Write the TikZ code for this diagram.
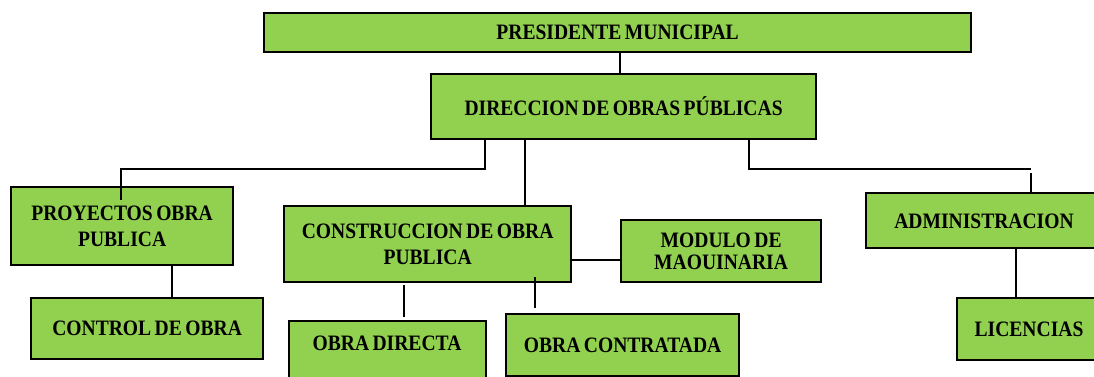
\documentclass[tikz,border=0pt]{standalone}
\usepackage{fontspec}
\setmainfont{Liberation Serif}[FakeStretch=0.89,WordSpace=0.7]
\usetikzlibrary{calc}
\definecolor{boxgreen}{HTML}{92D050}
\tikzset{
  box/.style={draw=black, line width=2.2pt, fill=boxgreen, anchor=north west, inner sep=0pt, align=center,
    font=\fontsize{22}{26}\selectfont\bfseries},
  lbl/.style={inner sep=0pt, align=center, font=\fontsize{22}{26}\selectfont\bfseries},
  conn/.style={draw=black, line width=1.8pt},
}
\begin{document}
\begin{tikzpicture}[x=1pt,y=-1pt]
\useasboundingbox (0,0) rectangle (1094,376);
\clip (0,0) rectangle (1094,376);
% boxes
\node[box, minimum width=707pt, minimum height=39pt] (pres) at (263,12) {\raisebox{-2pt}{PRESIDENTE MUNICIPAL}};
\node[box, minimum width=385pt, minimum height=65pt] (dir) at (430,73) {\raisebox{-3pt}{DIRECCION DE OBRAS PÚBLICAS}};
\node[box, minimum width=222pt, minimum height=78pt] (proy) at (10,186) {PROYECTOS OBRA\\PUBLICA};
\node[box, minimum width=232pt, minimum height=61pt] (ctrl) at (30,297) {CONTROL DE OBRA};
\node[box, minimum width=287pt, minimum height=76pt] (cons) at (283,205) {CONSTRUCCION DE OBRA\\PUBLICA};
\node[box, minimum width=200pt, minimum height=62pt, font=\fontsize{22}{22}\selectfont\bfseries] (mod) at (620,219) {MODULO DE\\MAOUINARIA};
\node[box, minimum width=197pt, minimum height=80pt] (od) at (288,320) {};
\node[lbl] (odt) at (387,343) {OBRA DIRECTA};
\node[box, minimum width=233pt, minimum height=62pt] (oc) at (505,313) {OBRA CONTRATADA};
\node[box, minimum width=260pt, minimum height=55pt] (adm) at (865,192) {};
\node[lbl] (admt) at (984,221) {ADMINISTRACION};
\node[box, minimum width=160pt, minimum height=62pt] (lic) at (956,297) {};
\node[lbl] (lict) at (1029,329) {LICENCIAS};
% connector guide coordinates
\coordinate (xl) at (485,169);
\coordinate (xp) at (121,200);
\coordinate (xm) at (525,0);
\coordinate (xr) at (749,169);
\coordinate (xr2) at (1031,169);
\coordinate (xr3) at (1031,173);
\coordinate (xk) at (172,0);
\coordinate (xpd) at (620,0);
\coordinate (ym) at (0,260);
\coordinate (od1) at (404,285);
\coordinate (od2) at (404,317);
\coordinate (oc1) at (535,277);
\coordinate (oc2) at (535,308);
\coordinate (xlic) at (1016,0);
% connectors
\draw[conn] (pres.south -| xpd) -- (dir.north -| xpd);
\draw[conn] (dir.south -| xl) -- (xl) -| (xp);
\draw[conn] (dir.south -| xm) -- (cons.north -| xm);
\draw[conn] (dir.south -| xr) -- (xr) -- (xr2);
\draw[conn] (xr3) -- (adm.north -| xr3);
\draw[conn] (proy.south -| xk) -- (ctrl.north -| xk);
\draw[conn] (cons.east |- ym) -- (mod.west |- ym);
\draw[conn] (od1) -- (od2);
\draw[conn] (oc1) -- (oc2);
\draw[conn] (adm.south -| xlic) -- (lic.north -| xlic);
\end{tikzpicture}
\end{document}
